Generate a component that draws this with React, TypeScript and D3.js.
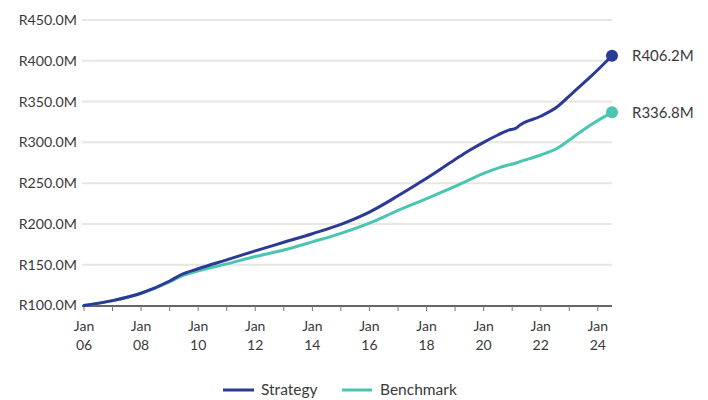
import React from "react";
import * as d3 from "d3";

const dates = ["2006-01","2007-01","2008-01","2009-01","2009-06","2010-01","2011-01","2012-01","2013-01","2014-01","2015-01","2016-01","2017-01","2018-01","2019-01","2019-07","2020-01","2020-07","2020-11","2021-03","2021-04","2022-01","2022-08","2023-03","2023-10","2024-07"];
const strategy = [100,106,115,130,138,145,156,167,177.5,188,199.5,214.5,234.5,256,279,290,300,309,314.5,318,320.5,332,343.7,362,380.5,406.2];
const benchmark = [100,106,115,129,136,142.5,151,160,168,178,188.5,201,216.5,231,246,254,262,268.5,272,275,276,284.5,292.7,307,321.3,336.8];
const yTicks = [100,150,200,250,300,350,400,450];
const xTickYears = [2006,2008,2010,2012,2014,2016,2018,2020,2022,2024];
const seriesNames = ["Strategy","Benchmark"];
const endLabels = ["R406.2M","R336.8M"];
const colors = ["#2b3997","#4ac6b0"];

export default function App() {
  const parse = d3.timeParse("%Y-%m");
  const ds = dates.map((d) => parse(d) as Date);
  const x = d3.scaleTime().domain([new Date(2006,0,1), new Date(2024,6,1)]).range([84, 612]);
  const y = d3.scaleLinear().domain([100, 450]).range([305.5, 20]);
  const line = d3.line<[Date, number]>().x((d) => x(d[0])).y((d) => y(d[1])).curve(d3.curveMonotoneX);
  const all = [strategy, benchmark];
  const minorTicks = d3.range(2006, 2025).map((yr) => new Date(yr, 0, 1));
  const font = "Lato, 'Open Sans', sans-serif";
  return (
    <svg width={708} height={400} style={{ position: "absolute", left: 0, top: 0 }} fontFamily={font}>
      {yTicks.map((t) => (
        <g key={t}>
          {t > 100 && <line x1={82} x2={612} y1={y(t)} y2={y(t)} stroke="#e9e6df" strokeWidth={2} />}
          <text x={77} y={y(t)} dy="0.35em" textAnchor="end" fontSize={14.2} fill="#3a3a3a">{`R${t.toFixed(1)}M`}</text>
        </g>
      ))}
      <line x1={82} x2={612} y1={306} y2={306} stroke="#666" strokeWidth={2} />
      {minorTicks.map((d, i) => (
        <line key={i} x1={x(d)} x2={x(d)} y1={306} y2={311} stroke="#777" strokeWidth={1} />
      ))}
      {xTickYears.map((yr) => (
        <g key={yr}>
          <text x={x(new Date(yr, 0, 1))} y={326} textAnchor="middle" fontSize={14} fill="#3a3a3a" dy="0.35em">Jan</text>
          <text x={x(new Date(yr, 0, 1))} y={345} textAnchor="middle" fontSize={14} fill="#3a3a3a" dy="0.35em">{String(yr % 100).padStart(2, "0")}</text>
        </g>
      ))}
      {[1, 0].map((si) => {
        const pts: [Date, number][] = ds.map((d, i) => [d, all[si][i]]);
        const last = pts[pts.length - 1];
        return (
          <g key={si}>
            <path d={line(pts) || ""} fill="none" stroke={colors[si]} strokeWidth={3} strokeLinejoin="round" strokeLinecap="round" />
            <circle cx={x(last[0])} cy={y(last[1])} r={6} fill={colors[si]} />
            <text x={632} y={y(last[1])} dy="0.35em" fontSize={15} fill="#3a3a3a">{endLabels[si]}</text>
          </g>
        );
      })}
      <g>
        <line x1={223} x2={254} y1={390} y2={390} stroke={colors[0]} strokeWidth={3} />
        <text x={261} y={390} dy="0.35em" fontSize={15.5} fill="#3a3a3a">{seriesNames[0]}</text>
        <line x1={342} x2={372} y1={390} y2={390} stroke={colors[1]} strokeWidth={3} />
        <text x={380} y={390} dy="0.35em" fontSize={15.5} fill="#3a3a3a">{seriesNames[1]}</text>
      </g>
    </svg>
  );
}
